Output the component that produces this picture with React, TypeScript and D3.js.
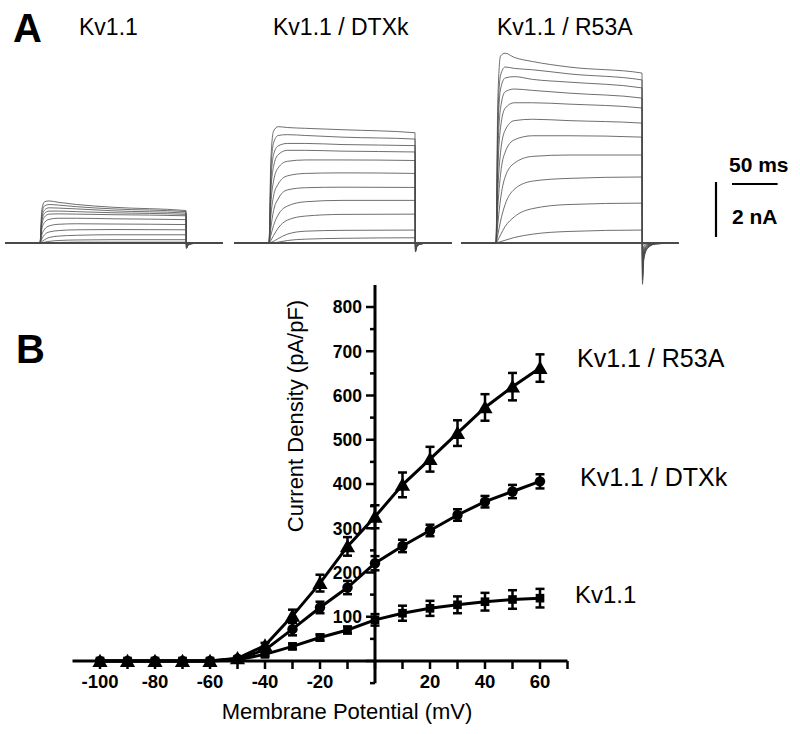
import React from 'react';
import * as d3 from 'd3';

// ---- panel B: current density vs membrane potential ----
const voltages = [-100, -90, -80, -70, -60, -50, -40, -30, -20, -10, 0, 10, 20, 30, 40, 50, 60];
const kv11Mean = [0, 0, 0, 0, 0, 3, 15, 33, 53, 70, 93, 108, 119, 127, 134, 139, 142];
const kv11Sem = [2, 2, 2, 2, 2, 3, 4, 6, 7, 8, 13, 17, 17, 19, 20, 21, 21];
const dtxkMean = [0, 0, 0, 0, 0, 5, 25, 72, 121, 166, 221, 260, 295, 330, 360, 383, 406];
const dtxkSem = [2, 2, 2, 2, 2, 3, 5, 14, 13, 15, 16, 14, 13, 13, 13, 15, 16];
const r53aMean = [0, 0, 0, 0, 0, 6, 35, 102, 176, 259, 326, 398, 456, 515, 573, 620, 662];
const r53aSem = [2, 2, 2, 2, 2, 3, 6, 14, 19, 21, 26, 28, 28, 29, 30, 31, 31];

const xTicks = d3.range(-100, 71, 10);
const xTickLabels = [-100, -80, -60, -40, -20, 20, 40, 60];
const yTicks = d3.range(-50, 801, 50);
const yTickLabels = [100, 200, 300, 400, 500, 600, 700, 800];

// ---- panel A: current traces (nA) sampled at these times (ms) ----
const traceTimes = [-38, 0, 2, 5, 10, 20, 40, 80, 160, 160.5, 162, 166, 175, 200];

// rows: steps -40 ... +60 mV
const kv11Traces = [
  [0, 0, 0, 0.005, 0.01, 0.02, 0.03, 0.03, 0.03, -0.01, 0, 0, 0, 0],
  [0, 0, 0.01, 0.03, 0.06, 0.09, 0.11, 0.12, 0.12, -0.03, -0.01, 0, 0, 0],
  [0, 0, 0.05, 0.12, 0.2, 0.25, 0.28, 0.3, 0.3, -0.06, -0.02, -0.01, 0, 0],
  [0, 0, 0.15, 0.3, 0.4, 0.45, 0.48, 0.49, 0.48, -0.09, -0.04, -0.01, 0, 0],
  [0, 0, 0.3, 0.5, 0.62, 0.68, 0.7, 0.69, 0.67, -0.12, -0.05, -0.02, 0, 0],
  [0, 0, 0.5, 0.75, 0.86, 0.9, 0.9, 0.88, 0.85, -0.14, -0.06, -0.02, 0, 0],
  [0, 0, 0.65, 0.95, 1.05, 1.06, 1.05, 1.03, 0.99, -0.16, -0.07, -0.02, 0, 0],
  [0, 0, 0.8, 1.08, 1.16, 1.16, 1.14, 1.1, 1.04, -0.17, -0.07, -0.02, 0, 0],
  [0, 0, 0.9, 1.2, 1.28, 1.27, 1.24, 1.17, 1.09, -0.18, -0.08, -0.02, 0, 0],
  [0, 0, 1.05, 1.35, 1.4, 1.38, 1.32, 1.24, 1.14, -0.19, -0.08, -0.03, 0, 0],
  [0, 0, 1.2, 1.5, 1.53, 1.48, 1.4, 1.3, 1.18, -0.2, -0.09, -0.03, 0, 0],
];

const dtxkTraces = [
  [0, 0, 0.005, 0.01, 0.03, 0.09, 0.14, 0.17, 0.19, -0.02, -0.01, 0, 0, 0],
  [0, 0, 0.02, 0.06, 0.16, 0.32, 0.43, 0.46, 0.47, -0.05, -0.02, -0.01, 0, 0],
  [0, 0, 0.09, 0.27, 0.54, 0.83, 0.98, 1.04, 1.05, -0.1, -0.04, -0.01, 0, 0],
  [0, 0, 0.27, 0.64, 1.02, 1.34, 1.5, 1.55, 1.55, -0.14, -0.05, -0.02, 0, 0],
  [0, 0, 0.54, 1.18, 1.6, 1.93, 2.01, 2.03, 2.02, -0.18, -0.07, -0.02, 0, 0],
  [0, 0, 0.96, 1.71, 2.14, 2.44, 2.53, 2.55, 2.53, -0.21, -0.09, -0.03, 0, 0],
  [0, 0, 1.39, 2.25, 2.73, 2.97, 3.02, 3.02, 3.0, -0.24, -0.1, -0.03, 0, 0],
  [0, 0, 1.82, 2.78, 3.21, 3.37, 3.37, 3.34, 3.31, -0.27, -0.11, -0.03, 0, 0],
  [0, 0, 2.14, 3.21, 3.53, 3.62, 3.62, 3.58, 3.54, -0.29, -0.12, -0.04, 0, 0],
  [0, 0, 2.57, 3.64, 3.91, 3.94, 3.91, 3.85, 3.78, -0.31, -0.13, -0.04, 0, 0],
  [0, 0, 3.0, 4.07, 4.23, 4.2, 4.17, 4.12, 4.01, -0.33, -0.14, -0.04, 0, 0],
];

const r53aTraces = [
  [0, 0, 0.02, 0.05, 0.1, 0.2, 0.32, 0.42, 0.47, -0.1, -0.04, -0.01, 0, 0],
  [0, 0, 0.1, 0.3, 0.6, 0.95, 1.25, 1.4, 1.45, -0.28, -0.11, -0.04, 0, 0],
  [0, 0, 0.3, 0.8, 1.4, 1.95, 2.25, 2.35, 2.4, -0.45, -0.18, -0.06, -0.01, 0],
  [0, 0, 0.7, 1.6, 2.4, 2.9, 3.15, 3.2, 3.2, -0.6, -0.24, -0.08, -0.01, 0],
  [0, 0, 1.3, 2.5, 3.3, 3.75, 3.9, 3.9, 3.85, -0.75, -0.3, -0.1, -0.02, 0],
  [0, 0, 1.9, 3.3, 4.1, 4.45, 4.5, 4.45, 4.36, -0.9, -0.36, -0.12, -0.02, 0],
  [0, 0, 2.6, 4.2, 4.9, 5.1, 5.1, 5.05, 4.91, -1.0, -0.4, -0.14, -0.02, 0],
  [0, 0, 3.2, 4.9, 5.5, 5.6, 5.55, 5.45, 5.27, -1.15, -0.46, -0.16, -0.03, 0],
  [0, 0, 3.9, 5.6, 6.0, 6.05, 5.95, 5.85, 5.64, -1.25, -0.5, -0.17, -0.03, 0],
  [0, 0, 4.5, 6.1, 6.4, 6.35, 6.3, 6.15, 5.93, -1.35, -0.54, -0.18, -0.03, 0],
  [0, 0, 5.2, 6.8, 6.9, 6.75, 6.6, 6.4, 6.18, -1.5, -0.6, -0.2, -0.03, 0],
];

const families = [
  { title: 'Kv1.1', onset: 40, titleX: 79, traces: kv11Traces },
  { title: 'Kv1.1 / DTXk', onset: 269, titleX: 273, traces: dtxkTraces },
  { title: 'Kv1.1 / R53A', onset: 496, titleX: 497, traces: r53aTraces },
];

const FONT = '"Liberation Sans", Arial, Helvetica, sans-serif';
const PX_PER_MS = 0.9125;
const BASELINE_Y = 243;
const PX_PER_NA = 27.5;

const TracePanel: React.FC<{ title: string; onset: number; titleX: number; traces: number[][] }> = ({ title, onset, titleX, traces }) => {
  const x = d3.scaleLinear().domain([0, 1]).range([onset, onset + PX_PER_MS]);
  const y = d3.scaleLinear().domain([0, 1]).range([BASELINE_Y, BASELINE_Y - PX_PER_NA]);
  const line = d3
    .line<number>()
    .x((_, i) => x(traceTimes[i]))
    .y((d) => y(d))
    .curve(d3.curveMonotoneX);
  return (
    <g>
      <text x={titleX} y={35} fontSize={23} fontFamily={FONT}>{title}</text>
      <line x1={x(traceTimes[0])} x2={x(traceTimes[traceTimes.length - 1])} y1={y(0)} y2={y(0)} stroke="#111" strokeWidth={1.4} />
      {traces.map((tr, i) => (
        <path key={i} d={line(tr) || ''} fill="none" stroke="#4a4a4a" strokeWidth={0.8} />
      ))}
    </g>
  );
};

const App: React.FC = () => {
  const x = d3.scaleLinear().domain([-110, 70]).range([72.5, 567.5]);
  const y = d3.scaleLinear().domain([0, 800]).range([661, 307]);

  const series = [
    { mean: r53aMean, sem: r53aSem, symbol: d3.symbolTriangle, size: 100, dy: 1.5 },
    { mean: dtxkMean, sem: dtxkSem, symbol: d3.symbolCircle, size: 85, dy: 0 },
    { mean: kv11Mean, sem: kv11Sem, symbol: d3.symbolSquare, size: 75, dy: 0 },
  ];

  const ivLine = d3
    .line<number>()
    .x((_, i) => x(voltages[i]))
    .y((d) => y(d));

  // scale bar uses panel A scales
  const barX = d3.scaleLinear().domain([0, 50]).range([732, 732 + 50 * PX_PER_MS]);
  const barY = d3.scaleLinear().domain([0, 2]).range([182, 182 + 2 * PX_PER_NA]);

  return (
    <svg width={800} height={734} style={{ position: 'absolute', left: 0, top: 0, background: '#fff' }} fontFamily={FONT}>
      <rect width={800} height={734} fill="#fff" />
      {/* Panel A */}
      <text x={13} y={42} fontSize={40} fontWeight="bold">A</text>
      {families.map((f) => (
        <TracePanel key={f.title} {...f} />
      ))}
      <text x={729} y={172} fontSize={21} fontWeight="bold">50 ms</text>
      <line x1={barX(0)} x2={barX(50)} y1={184} y2={184} stroke="#000" strokeWidth={2.2} />
      <line x1={716} x2={716} y1={barY(0)} y2={barY(2)} stroke="#000" strokeWidth={2.2} />
      <text x={732} y={224} fontSize={21} fontWeight="bold">2 nA</text>

      {/* Panel B */}
      <text x={16} y={363} fontSize={40} fontWeight="bold">B</text>

      {/* axes */}
      <line x1={x(-110)} x2={x(70)} y1={y(0)} y2={y(0)} stroke="#000" strokeWidth={3} />
      <line x1={x(0)} x2={x(0)} y1={y(-50)} y2={y(850)} stroke="#000" strokeWidth={3} />
      {xTicks.map((t) => (
        <line key={'xt' + t} x1={x(t)} x2={x(t)} y1={y(0)} y2={y(0) + 8} stroke="#000" strokeWidth={2.5} />
      ))}
      {xTickLabels.map((t) => (
        <text key={'xl' + t} x={x(t)} y={688} fontSize={18.5} fontWeight="bold" textAnchor="middle">{t}</text>
      ))}
      {yTicks.map((t) => (
        <line key={'yt' + t} x1={x(0) - (t % 100 === 0 ? 9 : 5)} x2={x(0)} y1={y(t)} y2={y(t)} stroke="#000" strokeWidth={2.5} />
      ))}
      {yTickLabels.map((t) => (
        <text key={'yl' + t} x={362} y={y(t)} dy="0.36em" fontSize={17.5} fontWeight="bold" textAnchor="end">{t}</text>
      ))}
      <text x={347} y={719} fontSize={22} textAnchor="middle">Membrane Potential (mV)</text>
      <text transform={`translate(303,416) rotate(-90)`} fontSize={22} textAnchor="middle">Current Density (pA/pF)</text>

      {/* data */}
      {series.map((s, si) => (
        <g key={si}>
          <path d={ivLine(s.mean) || ''} fill="none" stroke="#000" strokeWidth={3} />
          {s.mean.map((m, i) => {
            const cx = x(voltages[i]);
            const top = y(m + s.sem[i]);
            const bot = y(m - s.sem[i]);
            return (
              <g key={i}>
                <line x1={cx} x2={cx} y1={top} y2={bot} stroke="#000" strokeWidth={2.5} />
                <line x1={cx - 4.5} x2={cx + 4.5} y1={top} y2={top} stroke="#000" strokeWidth={2.5} />
                <line x1={cx - 4.5} x2={cx + 4.5} y1={bot} y2={bot} stroke="#000" strokeWidth={2.5} />
                <path d={d3.symbol(s.symbol, s.size)() || ''} transform={`translate(${cx},${y(m) + s.dy})`} fill="#000" />
              </g>
            );
          })}
        </g>
      ))}

      <text x={577} y={367} fontSize={25}>Kv1.1 / R53A</text>
      <text x={580} y={486} fontSize={25}>Kv1.1 / DTXk</text>
      <text x={575} y={603} fontSize={24}>Kv1.1</text>
    </svg>
  );
};

export default App;
